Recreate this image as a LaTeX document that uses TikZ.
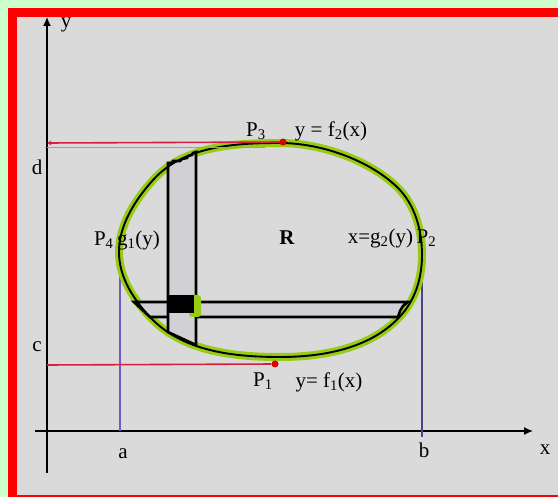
\documentclass[tikz,border=0pt]{standalone}
\usepackage{fontspec}
\setmainfont{Liberation Serif}
\usetikzlibrary{arrows.meta}
\definecolor{outergreen}{RGB}{204,255,204}
\definecolor{panel}{RGB}{218,218,218}
\definecolor{curvegreen}{RGB}{152,204,20}
\definecolor{stripfill}{RGB}{208,208,213}
\definecolor{vlineA}{RGB}{110,90,200}
\definecolor{vlineB}{RGB}{70,70,130}
\definecolor{redline}{RGB}{215,30,60}
\tikzset{
  lbl/.style={font=\fontsize{21}{24}\selectfont, inner sep=0pt, text=black},
  axisline/.style={line width=1.4pt, -{Latex[length=9pt,width=8pt]}},
  striprect/.style={fill=stripfill, draw=black, line width=2.6pt, line join=miter},
  levelline/.style={draw=redline, line width=1.6pt},
  reddot/.style={circle, fill=red!85!black, minimum size=7pt, inner sep=0pt},
}
\newcommand{\regioncurve}{(119,252) .. controls (119,225) and (135,200) .. (153,180)
  .. controls (183.8,146) and (234,143) .. (280,143)
  .. controls (320,143) and (368.2,159.4) .. (397,187)
  .. controls (415,204.3) and (422,230) .. (422,255)
  .. controls (422,276) and (416.4,296.8) .. (403,313)
  .. controls (374.2,347.7) and (325,357) .. (280,357)
  .. controls (233,357) and (182,351.3) .. (150,317)
  .. controls (133,298.75) and (119,277) .. (119,252) -- cycle}
\begin{document}
\begin{tikzpicture}[x=1pt,y=-1pt]
\useasboundingbox (0,0) rectangle (558,497);
% frame
\fill[outergreen] (0,0) rectangle (558,497);
\fill[red] (8,8) rectangle (558,497);
\fill[panel] (17,17) rectangle (558,495);

% coordinates
\coordinate (ybot) at (47,473);
\coordinate (ytop) at (47,17);
\coordinate (xleft) at (35,431);
\coordinate (xright) at (533,431);
\coordinate (dax) at (47,143);
\coordinate (cax) at (47,365);
\coordinate (atop) at (120,256);
\coordinate (abot) at (120,431);
\coordinate (btop) at (422,250);
\coordinate (bbot) at (422,437);
\coordinate (gs) at (47,148);
\coordinate (ge) at (265,148);

% axes
\draw[axisline] (ybot) -- (ytop);
\draw[axisline] (xleft) -- (xright);

% vertical guide lines
\draw[vlineA, line width=1.2pt] (atop) -- (abot);
\draw[vlineB, line width=1.2pt] (btop) -- (bbot);

% green highlight of the curve
\draw[curvegreen, line width=8pt] \regioncurve;

% horizontal strip
\draw[striprect] (134,302) -- (408,302) -- (403,306) -- (400,311) -- (398,317) -- (150,317) -- cycle;
% vertical strip
\draw[striprect] (168,332) -- (168,163) -- (172,163) -- (173,161) -- (180,161) -- (182,159) -- (187,158) -- (188,156) -- (192,155) -- (193,153) -- (196,152) -- (196,345) -- cycle;

% green glow and black element
\fill[curvegreen, rounded corners=3pt] (189,295) rectangle (201,317);
\fill[black] (168,295) rectangle (194,313);

% black curve
\draw[black, line width=1.9pt] \regioncurve;

% level lines and points
\draw[gray!75, line width=1pt] (gs) -- (ge);
\node[reddot] (P3dot) at (283,142) {};
\node[reddot] (P1dot) at (275,364) {};
\draw[levelline, -{Latex[length=4pt,width=5pt]}] (P3dot) -- (dax);
\draw[levelline] (P1dot) -- (cax);

% labels
\node[lbl] (ylab) at (66,25) {y};
\node[lbl] (xlab) at (545,450) {x};
\node[lbl] (dlab) at (37,167) {d};
\node[lbl] (clab) at (37,347) {c};
\node[lbl] (alab) at (123,454) {a};
\node[lbl] (blab) at (424,450) {b};
\node[lbl] (P3) at (256,131) {P\textsubscript{3}};
\node[lbl] (f2) at (331,131) {y = f\textsubscript{2}(x)};
\node[lbl] (P4) at (127,240) {P\textsubscript{4}\,g\textsubscript{1}(y)};
\node[lbl, font=\fontsize{21}{24}\selectfont\bfseries] (R) at (287,238) {R};
\node[lbl] (g2) at (392,238) {x=g\textsubscript{2}(y)\,P\textsubscript{2}};
\node[lbl] (P1) at (263,381) {P\textsubscript{1}};
\node[lbl] (f1) at (329,382) {y= f\textsubscript{1}(x)};
\end{tikzpicture}
\end{document}
